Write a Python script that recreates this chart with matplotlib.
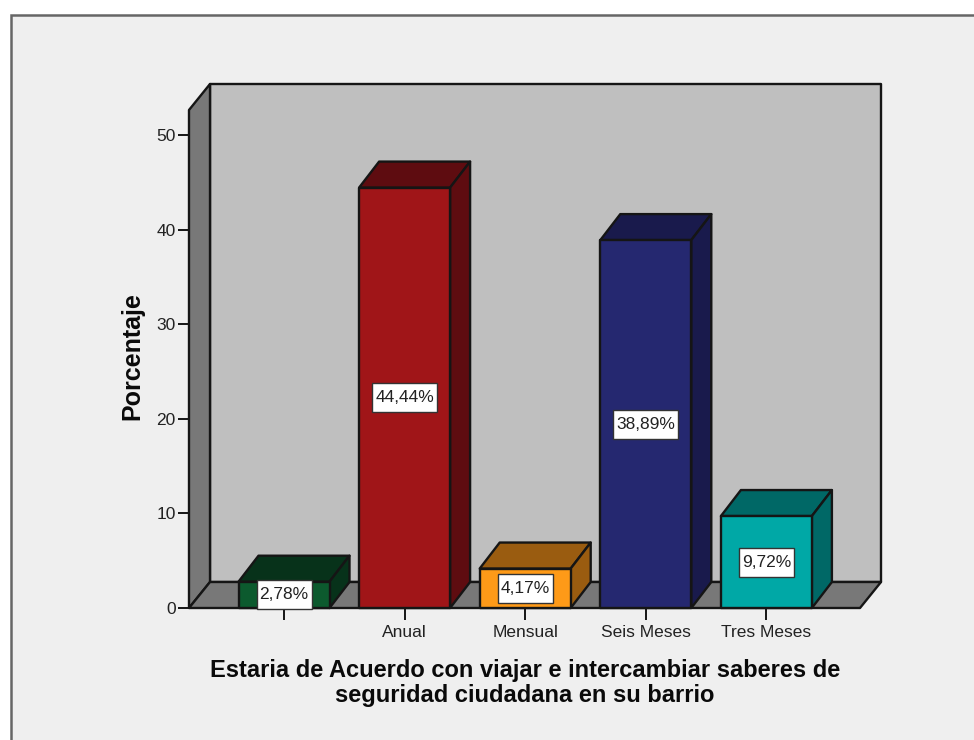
# Porcentaje por categoria - barras con efecto 3D al estilo SPSS
import matplotlib
matplotlib.use("Agg")
import matplotlib.pyplot as plt
from matplotlib.patches import Polygon, Rectangle

categories = ["", "Anual", "Mensual", "Seis Meses", "Tres Meses"]
values = [2.78, 44.44, 4.17, 38.89, 9.72]
labels = ["2,78%", "44,44%", "4,17%", "38,89%", "9,72%"]
y_ticks = [0, 10, 20, 30, 40, 50]
front_colors = ["#0c5a2e", "#a01518", "#fe9a18", "#252870", "#00a8a6"]
dark_colors = ["#07321a", "#5e0c10", "#9a5c10", "#191a4c", "#006866"]

W, H = 974, 740
LINE = "#151515"
plt.rcParams["font.family"] = ["Liberation Sans", "DejaVu Sans"]

# pixels of the plot box in the reference
left, right, base, top = 189, 860, 608, 110
x0_px, x_step = 284, 120.6
y_scale = (608 - 135) / 50
depth_x = 21 / x_step
bar_depth_x = 20 / x_step
depth_y = 26 / y_scale
bar_w = 91 / x_step

fig = plt.figure(figsize=(W / 100, H / 100), dpi=100, facecolor="white")
fig.add_artist(Rectangle((11 / W, -0.1), 1.1, 1.1 - 15 / H, transform=fig.transFigure,
                         facecolor="#efefef", edgecolor="#666666", linewidth=1.8, zorder=-1))

ax = fig.add_axes([left / W, 1 - base / H, (right - left) / W, (base - top) / H])
ax.set_xlim((left - x0_px) / x_step, (right - x0_px) / x_step)
ax.set_ylim(0, (base - top) / y_scale)
ax.patch.set_visible(False)
for s in ax.spines.values():
    s.set_visible(False)

x_min, x_max = ax.get_xlim()
y_max = ax.get_ylim()[1]


def add_poly(points, color, z):
    ax.add_patch(Polygon(points, closed=True, facecolor=color, edgecolor=LINE,
                         linewidth=1.7, joinstyle="round", clip_on=False, zorder=z))


# back wall, left wall and floor
add_poly([(x_min + depth_x, depth_y), (x_max + depth_x, depth_y),
          (x_max + depth_x, y_max + depth_y), (x_min + depth_x, y_max + depth_y)], "#bfbfbf", 1)
add_poly([(x_min, 0), (x_min + depth_x, depth_y),
          (x_min + depth_x, y_max + depth_y), (x_min, y_max)], "#787878", 1.1)
add_poly([(x_min, 0), (x_max, 0), (x_max + depth_x, depth_y), (x_min + depth_x, depth_y)], "#787878", 1.1)

for i, v in enumerate(values):
    x1, x2 = i - bar_w / 2, i + bar_w / 2
    add_poly([(x1, v), (x2, v), (x2 + bar_depth_x, v + depth_y), (x1 + bar_depth_x, v + depth_y)], dark_colors[i], 2)
    add_poly([(x2, 0), (x2 + bar_depth_x, depth_y), (x2 + bar_depth_x, v + depth_y), (x2, v)], dark_colors[i], 2)
    add_poly([(x1, 0), (x2, 0), (x2, v), (x1, v)], front_colors[i], 2.1)
    # the label boxes are taller than a uniform bbox pad would give
    box_w = (65 if len(labels[i]) == 6 else 55) / x_step
    box_h = 29 / y_scale
    ax.add_patch(Rectangle((i - box_w / 2, v / 2 - box_h / 2), box_w, box_h, facecolor="white",
                           edgecolor="#333333", linewidth=1.0, clip_on=False, zorder=3))
    ax.text(i, v / 2, labels[i], ha="center", va="center", fontsize=12.5, color="#222222", zorder=3.1)

ax.set_xticks(range(len(categories)), categories)
ax.set_yticks(y_ticks)
ax.tick_params(axis="x", length=8.5, width=1.4, color=LINE, labelsize=12.5, labelcolor="#222222", pad=4)
ax.tick_params(axis="y", length=8, width=1.4, color=LINE, labelsize=12.5, labelcolor="#222222", pad=1.5)

fig.text(132 / W, 1 - 356 / H, "Porcentaje", rotation=90, ha="center", va="center",
         fontsize=18, fontweight="bold", color="#0a0a0a")
fig.text(525 / W, 1 - 683 / H, "Estaria de Acuerdo con viajar e intercambiar saberes de\nseguridad ciudadana en su barrio",
         ha="center", va="center", fontsize=17, fontweight="bold", color="#0a0a0a", linespacing=1.09)

fig.savefig("out.png", dpi=100)
